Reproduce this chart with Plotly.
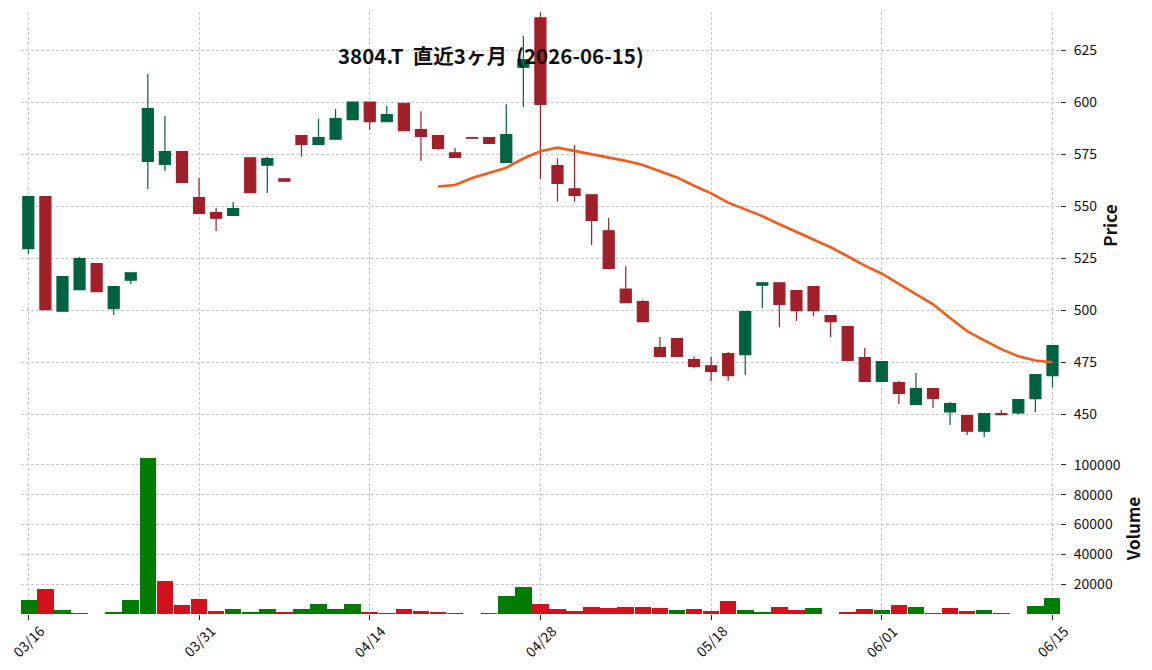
import plotly.graph_objects as go
import pandas as pd

dates = [
    "2026-03-16", "2026-03-17", "2026-03-18", "2026-03-19", "2026-03-23", "2026-03-24",
    "2026-03-25", "2026-03-26", "2026-03-27", "2026-03-30", "2026-03-31", "2026-04-01",
    "2026-04-02", "2026-04-03", "2026-04-06", "2026-04-07", "2026-04-08", "2026-04-09",
    "2026-04-10", "2026-04-13", "2026-04-14", "2026-04-15", "2026-04-16", "2026-04-17",
    "2026-04-20", "2026-04-21", "2026-04-22", "2026-04-23", "2026-04-24", "2026-04-27",
    "2026-04-28", "2026-04-30", "2026-05-01", "2026-05-07", "2026-05-08", "2026-05-11",
    "2026-05-12", "2026-05-13", "2026-05-14", "2026-05-15", "2026-05-18", "2026-05-19",
    "2026-05-20", "2026-05-21", "2026-05-22", "2026-05-25", "2026-05-26", "2026-05-27",
    "2026-05-28", "2026-05-29", "2026-06-01", "2026-06-02", "2026-06-03", "2026-06-04",
    "2026-06-05", "2026-06-08", "2026-06-09", "2026-06-10", "2026-06-11", "2026-06-12",
    "2026-06-15",
]

opens = [
    529.5, 554.5, 499.4, 509.8, 522.3, 500.6, 514.3, 571.5, 570.0, 576.1,
    554.0, 546.8, 545.5, 573.2, 569.6, 563.1, 583.8, 579.6, 582.1, 591.5,
    600.0, 590.5, 599.4, 586.7, 583.8, 575.6, 582.9, 582.9, 571.0, 616.7,
    640.5, 569.4, 558.3, 555.4, 538.1, 510.1, 504.0, 481.9, 486.2, 476.1,
    473.2, 479.0, 478.5, 511.9, 513.1, 509.3, 511.2, 497.3, 492.0, 477.1,
    465.7, 465.1, 454.6, 462.2, 451.0, 449.2, 441.7, 450.2, 450.5, 457.4,
    468.4,
]
highs = [
    554.5, 554.5, 516.0, 525.5, 522.3, 511.2, 517.9, 613.5, 593.3, 576.1,
    563.5, 549.0, 551.9, 573.2, 573.6, 563.1, 583.8, 591.8, 596.6, 600.0,
    600.0, 598.1, 599.4, 595.5, 583.8, 577.9, 582.9, 582.9, 598.9, 631.8,
    643.1, 572.9, 579.3, 555.4, 544.2, 521.0, 504.8, 487.0, 486.2, 477.7,
    477.7, 479.8, 499.2, 513.1, 513.1, 509.3, 511.2, 497.3, 492.0, 481.7,
    475.2, 465.9, 469.7, 462.2, 455.8, 449.2, 450.2, 451.9, 456.9, 468.9,
    482.9,
]
lows = [
    526.9, 500.2, 499.4, 509.8, 508.8, 497.6, 512.5, 558.2, 566.8, 561.4,
    546.5, 538.0, 545.5, 556.4, 556.2, 561.9, 573.7, 579.6, 582.1, 591.5,
    586.5, 590.5, 586.2, 571.6, 576.9, 573.4, 582.6, 580.1, 571.0, 597.6,
    563.0, 552.1, 552.1, 531.2, 520.0, 503.5, 494.4, 477.7, 477.7, 472.0,
    465.9, 465.9, 468.7, 500.8, 491.7, 494.7, 497.0, 486.9, 475.8, 465.7,
    465.7, 454.8, 454.6, 452.9, 444.7, 439.9, 438.9, 449.7, 449.7, 451.0,
    463.0,
]
closes = [
    554.5, 500.2, 516.0, 524.7, 508.8, 511.2, 517.9, 596.8, 576.1, 561.4,
    546.5, 544.1, 548.7, 556.4, 572.8, 561.9, 579.6, 582.9, 592.0, 600.0,
    590.5, 593.9, 586.2, 583.5, 577.7, 573.4, 582.6, 580.1, 584.3, 620.4,
    598.9, 560.9, 555.1, 543.1, 520.0, 503.5, 494.4, 477.7, 477.7, 472.9,
    470.5, 468.4, 499.2, 513.1, 502.7, 499.7, 499.7, 494.4, 475.8, 465.7,
    475.2, 459.9, 462.2, 457.5, 455.0, 441.7, 450.2, 449.7, 456.9, 468.9,
    482.9,
]
volumes = [
    9600, 16700, 2600, 500, 0, 1200, 9600, 105000, 22000, 5900,
    9900, 1800, 3150, 1100, 3150, 1100, 3150, 6500, 3150, 6500,
    1100, 450, 3150, 1800, 1100, 450, 0, 450, 11900, 18000,
    6500, 3150, 1800, 4500, 3800, 4500, 4500, 3800, 2500, 3150,
    1800, 8550, 2500, 1100, 4500, 2500, 3800, 0, 1100, 3150,
    2500, 5850, 4500, 450, 3800, 1800, 2500, 450, 0, 5200,
    10600,
]

price_ticks = [450, 475, 500, 525, 550, 575, 600, 625]
volume_ticks = [20000, 40000, 60000, 80000, 100000]
title_text = "3804.T  直近3ヶ月  (2026-06-15)"
mav_period = 25

FONT = "Noto Sans CJK JP"
UP_C = "#006340"
DN_C = "#a01f29"
VUP_C = "#007d00"
VDN_C = "#d3111d"
MA_C = "#f25c18"
GRID_C = "#c8c8c8"
GRID_DASH = "3px,2px"

# figure geometry (pixels)
W, H = 1152, 670
ML, MR, MT, MB = 21, 92, 12, 56
PW, PH = W - ML - MR, H - MT - MB

idx = list(range(len(dates)))
ma = pd.Series(closes).rolling(mav_period).mean()
vcolors = [VUP_C] + [VUP_C if closes[i] >= closes[i - 1] else VDN_C for i in range(1, len(closes))]

tick_idx = idx[::10]
tick_txt = [pd.Timestamp(dates[i]).strftime("%m/%d") for i in tick_idx]

fig = go.Figure()
fig.add_trace(go.Candlestick(
    x=idx, open=opens, high=highs, low=lows, close=closes,
    increasing=dict(line=dict(color=UP_C, width=1.2), fillcolor=UP_C),
    decreasing=dict(line=dict(color=DN_C, width=1.2), fillcolor=DN_C),
    whiskerwidth=0, xaxis="x2", yaxis="y2", showlegend=False, hoverinfo="skip",
))
fig.add_trace(go.Scatter(
    x=idx, y=ma, mode="lines", line=dict(color=MA_C, width=2.6),
    xaxis="x2", yaxis="y2", showlegend=False, hoverinfo="skip",
))
fig.add_trace(go.Bar(
    x=idx, y=volumes, marker=dict(color=vcolors, line=dict(width=0)),
    width=0.97, xaxis="x", yaxis="y", showlegend=False, hoverinfo="skip",
))

xr = [-0.43, 60.44]
common_x = dict(range=xr, showgrid=True, gridcolor=GRID_C, griddash=GRID_DASH, gridwidth=0.8,
                zeroline=False, showline=False, tickvals=tick_idx, fixedrange=True)
common_y = dict(side="right", ticks="outside", ticklen=5, tickcolor="#222",
                tickfont=dict(size=14), ticklabelstandoff=5,
                showgrid=True, gridcolor=GRID_C, griddash=GRID_DASH, gridwidth=0.8,
                zeroline=False, showline=False)

annotations = [dict(text="<b>" + title_text + "</b>", xref="paper", yref="paper",
                    x=(491 - ML) / PW, y=(H - MB - 55) / PH, xanchor="center", yanchor="middle",
                    showarrow=False, font=dict(size=20.5, family=FONT, color="#111"))]
for i, t in zip(tick_idx, tick_txt):
    annotations.append(dict(text=t, xref="x", yref="paper", x=i, y=(H - MB - 641) / PH,
                            xanchor="center", yanchor="middle", textangle=-45, showarrow=False,
                            font=dict(size=14, family=FONT, color="#111")))

fig.update_layout(
    width=W, height=H,
    margin=dict(l=ML, r=MR, t=MT, b=MB),
    paper_bgcolor="white", plot_bgcolor="white",
    font=dict(family=FONT, size=14, color="#111111"),
    boxgap=0.355, boxgroupgap=0,
    bargap=0,
    xaxis=dict(**common_x, ticks="outside", ticklen=5, tickcolor="#222",
               showticklabels=False, anchor="y"),
    xaxis2=dict(**common_x, showticklabels=False,
                rangeslider=dict(visible=False), anchor="y2", matches="x"),
    yaxis=dict(**common_y, domain=[0, 0.2841], range=[0, 114750],
               tickvals=volume_ticks, ticktext=[str(v) for v in volume_ticks],
               title=dict(text="<b>Volume</b>", font=dict(size=17), standoff=8)),
    yaxis2=dict(**common_y, domain=[0.2907, 1.0], range=[437.98, 643.27],
                tickvals=price_ticks,
                title=dict(text="<b>Price</b>", font=dict(size=17), standoff=8)),
    annotations=annotations,
)

fig.write_html("out.html")
